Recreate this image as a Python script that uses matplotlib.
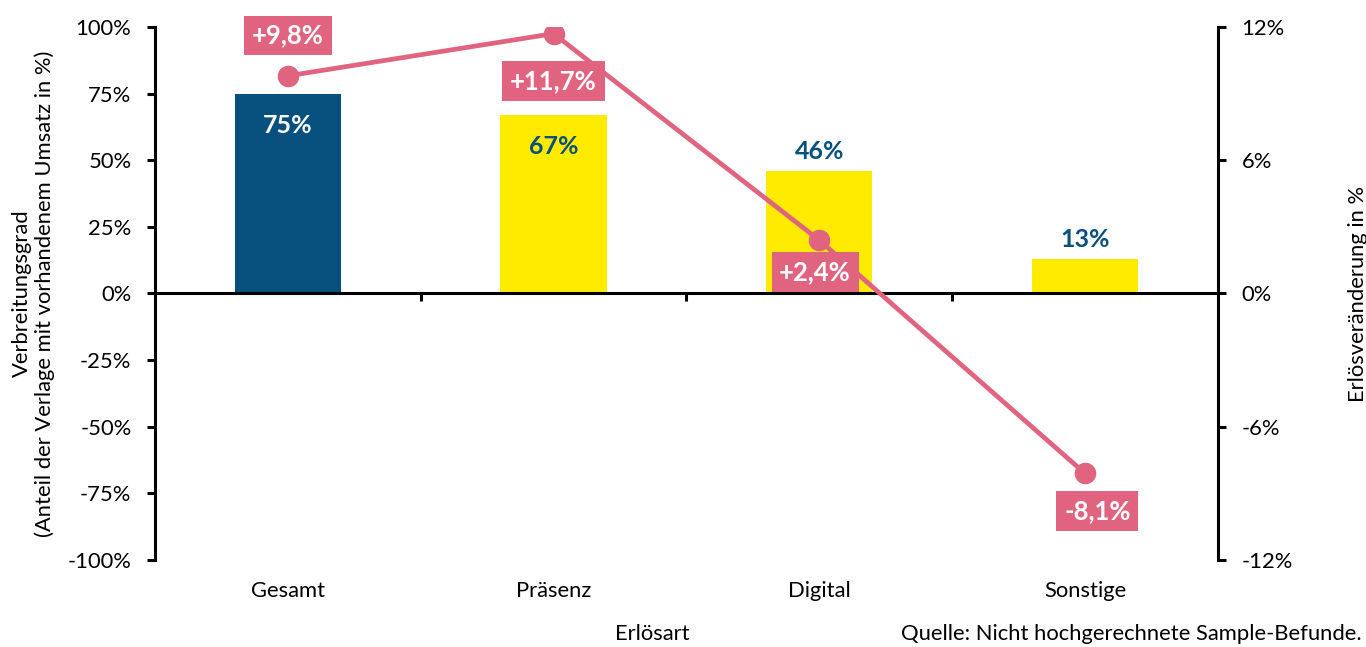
import numpy as np
import matplotlib
matplotlib.use("Agg")
import matplotlib.pyplot as plt
import matplotlib.transforms as mtransforms

plt.rcParams['font.family'] = ['Lato', 'DejaVu Sans']

## Data
categories = ['Gesamt', 'Präsenz', 'Digital', 'Sonstige']
share = [75, 67, 46, 13]            # Verbreitungsgrad in %
change = [9.8, 11.7, 2.4, -8.1]     # Erlösveränderung in %
change_labels = ['+9,8%', '+11,7%', '+2,4%', '-8,1%']
left_ticks = [100, 75, 50, 25, 0, -25, -50, -75, -100]
right_ticks = [12, 6, 0, -6, -12]

navy = '#08507E'
yellow = '#FFEB00'
pink = '#E0647F'
fs = 15.8

fig = plt.figure(figsize=(13.66, 6.47), dpi=100)
ax = fig.add_axes([0.1135, 0.1345, 0.778, 0.8238])
x = np.arange(len(categories))

## Bars
colors = [navy] + [yellow] * 3
ax.bar(x, share, width=0.4, color=colors, zorder=2)
ax.set_xlim(-0.5, len(categories) - 0.5)
ax.set_ylim(-100, 100)
ax.set_yticks(left_ticks)
ax.set_yticklabels([f'{t}%' for t in left_ticks])

# bar value labels: inside for the tall ones, above for the others
for i, v in enumerate(share):
    if v > 60:
        col = 'white' if i == 0 else navy
        ax.annotate(f'{v}%', (x[i], v), xytext=(0, -23), textcoords='offset points',
                    ha='center', va='center', color=col, fontsize=18, fontweight='bold', zorder=3)
    else:
        ax.annotate(f'{v}%', (x[i], v), xytext=(0, 14), textcoords='offset points',
                    ha='center', va='center', color=navy, fontsize=18, fontweight='bold', zorder=3)

## Axis styling
for s in ['top', 'right']:
    ax.spines[s].set_visible(False)
ax.spines['bottom'].set_position(('data', 0))
ax.spines['bottom'].set_linewidth(2.2)
ax.spines['left'].set_linewidth(2.2)
ax.set_xticks(np.arange(0.5, len(categories) - 1, 1.0))
ax.set_xticklabels([])
ax.tick_params(axis='x', length=6, width=2.2, direction='out')
ax.tick_params(axis='y', length=6, width=2.2, labelsize=fs, pad=11)
ax.set_ylabel('Verbreitungsgrad\n(Anteil der Verlage mit vorhandenem Umsatz in %)',
              fontsize=fs, labelpad=9, linespacing=1.15)

# category labels below the plot area
trans = mtransforms.blended_transform_factory(ax.transData, ax.transAxes)
for i, c in enumerate(categories):
    ax.text(x[i], -0.058, c, transform=trans, ha='center', va='center', fontsize=fs)

## Line on the secondary axis
ax2 = ax.twinx()
ax2.plot(x, change, color=pink, lw=3.4, marker='o', markersize=14.5, zorder=4)
ax2.set_ylim(-12, 12)
ax2.set_yticks(right_ticks)
ax2.set_yticklabels([f'{t}%' for t in right_ticks])
for s in ['top', 'left', 'bottom']:
    ax2.spines[s].set_visible(False)
ax2.spines['right'].set_linewidth(2.2)
ax2.tick_params(axis='y', length=6, width=2.2, labelsize=fs, pad=11)
ax2.set_ylabel('Erlösveränderung in %', fontsize=fs, labelpad=40)

offsets = [(0, 29), (0, -34), (-3, -23), (9, -27)]
for i, (lab, off) in enumerate(zip(change_labels, offsets)):
    ax2.annotate(lab, (x[i], change[i]), xytext=off, textcoords='offset points',
                 ha='center', va='center', color='white', fontsize=18.5, fontweight='bold',
                 bbox=dict(boxstyle='square,pad=0.3', fc=pink, ec='none'), zorder=5)

## Footer texts
fig.text(652 / 1366, 1 - 634 / 647, 'Erlösart', ha='center', va='center', fontsize=fs)
fig.text(1362 / 1366, 1 - 634 / 647, 'Quelle: Nicht hochgerechnete Sample-Befunde.',
         ha='right', va='center', fontsize=fs)

fig.savefig('out.png', dpi=100)
